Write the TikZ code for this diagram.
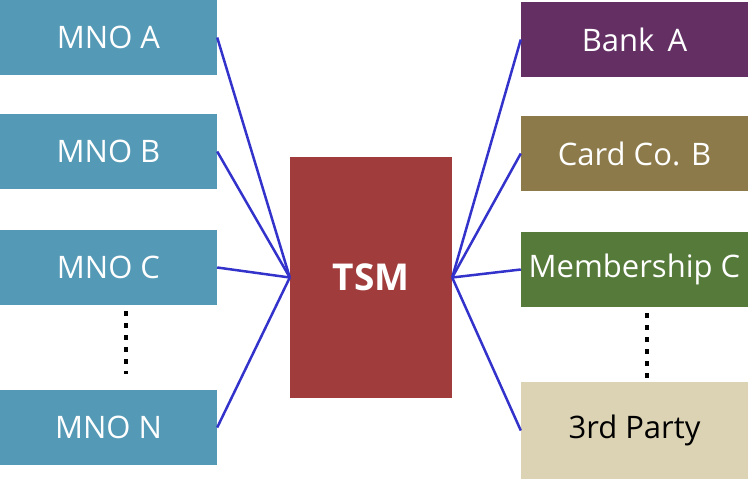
\documentclass[tikz,border=0pt]{standalone}
\usepackage{fontspec}
\setmainfont{Open Sans}
\definecolor{mno}{RGB}{84,153,181}
\definecolor{tsm}{RGB}{160,60,60}
\definecolor{bank}{RGB}{100,48,100}
\definecolor{card}{RGB}{140,122,74}
\definecolor{memb}{RGB}{86,122,58}
\definecolor{third}{RGB}{220,210,180}
\definecolor{link}{RGB}{51,51,204}
\begin{document}
\begin{tikzpicture}[x=1pt,y=-1pt,
  box/.style={draw=none,rectangle,minimum width=#1,inner sep=0pt,font=\fontsize{31}{31}\selectfont},
  lbox/.style={box=217pt,fill=mno,text=white,minimum height=75pt},
  rbox/.style={box=227pt,minimum height=75pt},
  link/.style={draw=link,line width=2.5pt},
  dots/.style={draw=black,line width=4pt,dash pattern=on 5pt off 7pt}]
\useasboundingbox (0,0) rectangle (748,480);
\node[lbox] (ma) at (108.5,37.5) {MNO A};
\node[lbox] (mb) at (108.5,151.5) {MNO B};
\node[lbox] (mc) at (108.5,267.5) {MNO C};
\node[lbox] (mn) at (108.5,427.5) {MNO N};
\node[rectangle,fill=tsm,text=white,minimum width=162pt,minimum height=241pt,inner sep=0pt,font=\fontsize{37}{37}\selectfont\bfseries] (tsm) at (371,277.5) {TSM};
\node[rbox,fill=bank,text=white] (ba) at (634.5,39.5) {Bank\,\ A};
\node[rbox,fill=card,text=white] (cb) at (634.5,153.5) {Card Co. B};
\node[rbox,fill=memb,text=white] (mbc) at (634.5,269.5) {Membership C};
\node[rbox,fill=third,text=black,minimum height=97pt] (tp) at (634.5,430.5) {3rd Party};
\foreach \n in {ma,mb,mc,mn} \draw[link] (\n.east) -- (tsm.west);
\foreach \n in {ba,cb,mbc,tp} \draw[link] (\n.west) -- (tsm.east);
\coordinate (ld1) at (126,311);
\coordinate (ld2) at (126,374);
\coordinate (rd1) at (647,313);
\coordinate (rd2) at (647,378);
\draw[dots] (ld1) -- (ld2);
\draw[dots] (rd1) -- (rd2);
\end{tikzpicture}
\end{document}
